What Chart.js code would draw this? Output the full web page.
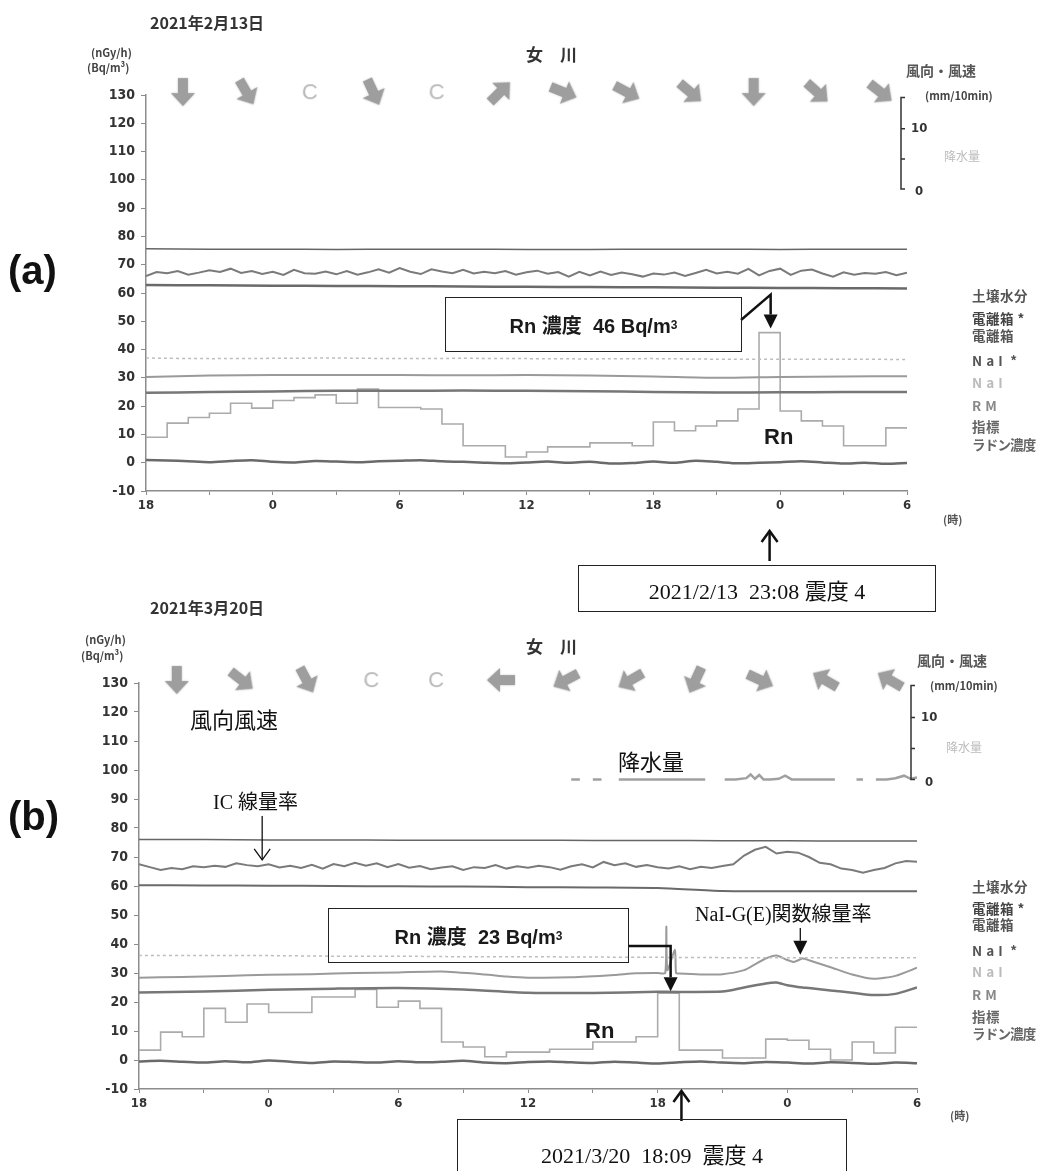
<!DOCTYPE html>
<html lang="ja">
<head>
<meta charset="utf-8">
<script src="https://cdn.jsdelivr.net/npm/chart.js@4.4.1/dist/chart.umd.min.js"></script>
<style>
  body { margin:0; background:#fff; }
  #page { position:relative; width:1043px; height:1171px; overflow:hidden; background:#fff; }
  canvas { position:absolute; left:0; }
  .t { position:absolute; white-space:nowrap; line-height:1; font-family:"Noto Sans CJK JP",sans-serif; z-index:2; }
  .b { font-weight:bold; }
  .serif { font-family:"Liberation Serif","DejaVu Serif","Noto Sans CJK JP",serif; color:#111; }
  .box { position:absolute; border:1.5px solid #222; box-sizing:border-box; display:flex; align-items:center; justify-content:center; z-index:2; }
  .rn { font-family:"Liberation Sans",Arial,"Noto Sans CJK JP",sans-serif; font-weight:bold; font-size:20px; color:#1a1a1a; }
  .big { font-family:"Liberation Sans",Arial,sans-serif; font-weight:bold; font-size:40px; color:#111; }
  .leg { font-size:13.5px; font-weight:bold; color:#555; letter-spacing:0.5px; }
  .leg.narrow { letter-spacing:-0.8px; }
  sup { font-size:60%; line-height:0; }
</style>
</head>
<body>
<div id="page">
  <canvas id="chartA" width="1043" height="565" style="top:0"></canvas>
  <canvas id="chartB" width="1043" height="581" style="top:590px"></canvas>

  <!-- panel (a) texts -->
  <div class="t b" style="left:150px;top:14px;font-size:16px;color:#333">2021年2月13日</div>
  <div class="t big" style="left:8px;top:250px">(a)</div>
  <div class="t b" style="left:91px;top:47px;font-size:11px;color:#444">(nGy/h)</div>
  <div class="t b" style="left:87px;top:62px;font-size:11px;color:#444">(Bq/m³)</div>
  <div class="t b" style="left:526px;top:45px;font-size:17px;color:#333">女　川</div>
  <div class="t b" style="left:906px;top:63px;font-size:14px;color:#555">風向・風速</div>
  <div class="t b" style="left:925px;top:90px;font-size:11px;color:#444">(mm/10min)</div>
  <div class="t" style="left:944px;top:150px;font-size:12px;color:#bbb">降水量</div>
  <div class="t b" style="left:943px;top:514px;font-size:11px;color:#555">(時)</div>
  <div class="t leg" style="left:972px;top:289px;color:#555">土壌水分</div>
  <div class="t leg" style="left:972px;top:312px;color:#444">電離箱 *</div>
  <div class="t leg" style="left:972px;top:329px;color:#555">電離箱</div>
  <div class="t leg" style="left:972px;top:354px;color:#555">N a I &nbsp;*</div>
  <div class="t leg" style="left:972px;top:376px;color:#bbb">N a I</div>
  <div class="t leg" style="left:972px;top:399px;color:#888">R M</div>
  <div class="t leg" style="left:972px;top:420px;color:#666">指標</div>
  <div class="t leg narrow" style="left:972px;top:438px;color:#666">ラドン濃度</div>
  <div class="box rn" style="left:445px;top:297px;width:297px;height:55px">Rn 濃度&nbsp; 46 Bq/m<sup>3</sup></div>
  <div class="t rn" style="left:764px;top:426px;font-size:22px">Rn</div>
  <div class="box serif" style="left:578px;top:565px;width:358px;height:47px;font-size:22px">2021/2/13&nbsp; 23:08 震度 4</div>

  <!-- panel (b) texts -->
  <div class="t b" style="left:150px;top:599px;font-size:16px;color:#333">2021年3月20日</div>
  <div class="t big" style="left:8px;top:796px">(b)</div>
  <div class="t b" style="left:85px;top:634px;font-size:11px;color:#444">(nGy/h)</div>
  <div class="t b" style="left:81px;top:650px;font-size:11px;color:#444">(Bq/m³)</div>
  <div class="t b" style="left:526px;top:637px;font-size:17px;color:#333">女　川</div>
  <div class="t b" style="left:917px;top:653px;font-size:14px;color:#555">風向・風速</div>
  <div class="t b" style="left:930px;top:680px;font-size:11px;color:#444">(mm/10min)</div>
  <div class="t" style="left:946px;top:741px;font-size:12px;color:#bbb">降水量</div>
  <div class="t b" style="left:950px;top:1110px;font-size:11px;color:#555">(時)</div>
  <div class="t serif" style="left:190px;top:710px;font-size:22px">風向風速</div>
  <div class="t serif" style="left:618px;top:752px;font-size:22px">降水量</div>
  <div class="t serif" style="left:213px;top:792px;font-size:20px">IC 線量率</div>
  <div class="t serif" style="left:695px;top:904px;font-size:20px">NaI-G(E)関数線量率</div>
  <div class="t leg" style="left:972px;top:880px;color:#555">土壌水分</div>
  <div class="t leg" style="left:972px;top:902px;color:#444">電離箱 *</div>
  <div class="t leg" style="left:972px;top:918px;color:#555">電離箱</div>
  <div class="t leg" style="left:972px;top:944px;color:#555">N a I &nbsp;*</div>
  <div class="t leg" style="left:972px;top:965px;color:#bbb">N a I</div>
  <div class="t leg" style="left:972px;top:988px;color:#888">R M</div>
  <div class="t leg" style="left:972px;top:1010px;color:#666">指標</div>
  <div class="t leg narrow" style="left:972px;top:1027px;color:#666">ラドン濃度</div>
  <div class="box rn" style="left:328px;top:908px;width:301px;height:55px">Rn 濃度&nbsp; 23 Bq/m<sup>3</sup></div>
  <div class="t rn" style="left:585px;top:1020px;font-size:22px">Rn</div>
  <div class="box serif" style="left:457px;top:1119px;width:390px;height:62px;font-size:22px;align-items:flex-start;padding-top:17px">2021/3/20&nbsp; 18:09&nbsp; 震度 4</div>
</div>

<script>
// time axis: hours after 18:00 of the previous day, 36 h in all
var START_HOUR = 18;
var HOURS_3 = [0,3,6,9,12,15,18,21,24,27,30,33,36];
var HOURS_1 = [0,1,2,3,4,5,6,7,8,9,10,11,12,13,14,15,16,17,18,19,20,21,22,23,24,25,26,27,28,29,30,31,32,33,34,35,36];
var WIND_HOURS = [1.75,4.75,7.75,10.75,13.75,16.75,19.75,22.75,25.75,28.75,31.75,34.75];

// ---- panel (a) 2021/2/13 ----
var windA = [180,150,null,155,null,45,112,118,130,180,132,128];   // degrees, null = calm
var topA   = [75.6,75.5,75.5,75.4,75.5,75.5,75.4,75.4,75.5,75.5,75.4,75.5,75.5];
var icA = [66.0,67.4,67.0,67.8,66.5,67.2,68.0,67.4,68.6,67.1,
           67.8,66.7,67.5,66.4,68.2,67.0,66.8,67.6,66.6,67.8,
           66.5,67.3,68.4,67.2,68.8,67.5,66.7,68.4,67.6,67.0,
           68.2,66.9,67.5,67.0,67.8,66.5,67.3,67.9,66.8,67.4,
           65.8,67.5,66.2,67.6,66.4,67.2,66.6,65.8,66.9,66.5,
           67.2,66.0,67.1,68.2,66.9,67.5,66.8,68.5,66.2,67.8,
           68.6,66.4,67.9,68.3,66.9,65.8,67.3,66.5,67.1,66.8,
           67.4,66.3,67.2];
var sixtyA = [62.8,62.7,62.6,62.5,62.4,62.3,62.2,62.1,62.0,61.9,61.8,61.7,61.6];
var dotA   = [37.0,36.8,36.9,37.0,36.8,36.9,36.8,36.7,36.8,36.6,36.6,36.6,36.5];
var naiA   = [30.3,30.8,31.0,31.0,31.0,30.9,31.0,30.8,30.5,30.0,30.3,30.5,30.6];
var rmA    = [24.7,25.0,25.2,25.4,25.4,25.5,25.4,25.3,25.0,24.8,24.9,25.0,25.0];
var rnA = [9,14,16,17.5,21,19.3,22,23,24,21,26,19.5,19.5,19,13.7,6,6,2,3.8,5.6,5.6,7,7,6,
           14.4,11.3,13,14.8,19,46,18.3,14.8,13,6,6,12.3,12.3];
var zeroA = [1,0.8,0.5,0.2,0.6,0.9,0.3,0.1,0.6,0.4,0.2,0.5,0.7,0.9,0.5,0.3,0,-0.2,0.1,0.4,
             0,0.3,-0.3,-0.1,0.4,0,0.7,0.3,-0.2,0,0.2,0.5,0.1,-0.3,0,-0.4,-0.1];
var QUAKE_A = 29.5;     // where the earthquake arrow stands
var RN_EVENT_A = 29;    // hour slot of the Rn value called out in the box

// ---- panel (b) 2021/3/20 ----
var windB = [180,128,152,null,null,270,242,240,205,115,300,300];
var topB   = [76.0,76.0,75.9,75.9,75.8,75.8,75.8,75.7,75.7,75.6,75.6,75.5,75.5];
var icB = [67.5,66.5,65.5,66.2,65.8,66.8,66.5,67.0,66.6,67.8,
           67.2,66.8,67.5,66.4,67.0,66.2,67.3,66.0,67.6,66.8,
           68.0,67.0,67.8,66.5,67.6,66.3,66.9,65.8,66.4,66.8,
           65.5,66.5,66.2,67.2,66.0,66.8,66.3,67.0,66.5,65.6,
           66.8,67.5,66.4,68.3,67.2,67.8,66.6,67.2,66.5,66.0,
           66.8,65.8,66.6,66.2,66.9,67.5,70.5,72.5,73.5,71.2,
           71.8,71.5,70.0,68.0,67.5,66.0,65.5,64.6,65.5,66.2,
           67.8,68.6,68.4];
var sixtyB = [60.3,60.2,60.1,60.0,59.9,59.8,59.6,59.5,59.3,58.3,58.2,58.2,58.2];
var dotB   = [36.0,36.0,36.0,35.8,35.8,35.6,35.6,35.5,35.4,35.3,35.3,35.3,35.3];
var naiHoursB = [0,2,4,6,8,10,12,14,16,17,18,20,22,23,24,24.35,24.4,24.45,24.8,24.85,
                 25,26,27,28,28.5,29,29.5,30,30.3,30.7,31,32,33,34,35,36];
var naiB = [28.4,28.6,29,29.4,29.6,30,30.2,30.5,29.5,28.8,28.4,28.5,29.3,29.9,30,30,46,31,38,30,
            29.8,29.5,29.6,31,33,35,36,34.5,33.8,35,34.4,32,29.5,28,29,31.8];
var rmHoursB = [0,3,6,9,12,15,18,21,24,27,28,29,29.5,30,30.7,31,32,33,34,35,36];
var rmB = [23.3,23.6,24.2,24.6,24.8,24.3,23.2,23.1,23.5,23.6,25,26.4,26.7,25.8,25,24.8,24,23.2,22.4,22.8,25];
var rnB = [3.4,9.6,8,17.8,13,19.3,16.4,16.4,21.7,21.7,24.3,18.2,20.3,17.8,6.2,4.5,1.1,2.7,2.7,3.7,
           3.7,6.2,6.2,8,23,3.4,3.4,0.7,0.7,7.2,6.8,3.7,0,6.2,2.4,11.3,11.3];
var zeroB = [-0.5,-0.3,-0.6,-0.9,-0.4,-0.8,-0.2,-0.6,-1,-0.5,-0.7,-0.9,-0.4,-0.8,-0.6,-0.3,-0.9,-1.1,-0.7,-0.5,
             -0.8,-1,-0.6,-0.9,-1.2,-0.8,-0.5,-0.9,-1.1,-0.7,-0.9,-1.2,-0.8,-1,-1.3,-0.9,-1.1];
var precipHoursB = [20.0,20.4,20.6,21.0,21.4,21.6,22.2,23.0,24.0,25.0,26.2,26.5,27.1,27.6,28.1,28.3,28.5,28.7,28.9,29.2,
                    29.6,29.9,30.2,30.5,31.0,31.5,32.2,32.5,33.2,33.5,33.7,34.1,34.6,35.0,35.4,35.7,36.0];
var precipB = [0,0,null,0,0,null,0,0,0,0,0,null,0,0,0.2,0.8,0.1,0.7,0,0,
               0.1,0.6,0,0,0,0,0,null,0,0,null,0,0,0.2,0.6,0.1,0.3];
var QUAKE_B = 25.1;
var RN_EVENT_B = 24;

// precipitation axis (mm/10min) sits in the upper right of the plot
var RAIN_MIN = -50.1, RAIN_MAX = 15.6;
var WIND_ROW = 131;

Chart.defaults.font.family = '"Liberation Sans Narrow","DejaVu Sans Condensed","Noto Sans CJK JP",sans-serif';

function makeArrow() {
  var c = document.createElement('canvas');
  c.width = 26; c.height = 30;
  var g = c.getContext('2d');
  g.fillStyle = '#9e9e9e';
  g.shadowColor = 'rgba(150,150,150,0.6)';
  g.shadowBlur = 2;
  g.beginPath();
  g.moveTo(13,1); g.lineTo(25,14); g.lineTo(18,14); g.lineTo(18,29);
  g.lineTo(8,29); g.lineTo(8,14); g.lineTo(1,14); g.closePath();
  g.fill();
  return c;
}
function makeCalm() {
  var c = document.createElement('canvas');
  c.width = 24; c.height = 28;
  var g = c.getContext('2d');
  g.fillStyle = '#b8b8b8';
  g.font = '22px "Liberation Sans",sans-serif';
  g.textAlign = 'center'; g.textBaseline = 'middle';
  g.fillText('C', 12, 15);
  return c;
}
var arrowImg = makeArrow(), calmImg = makeCalm();

function series(hours, values, color, width, extra) {
  var ds = {
    data: hours.map(function(h, i) { return {x: h, y: values[i]}; }),
    borderColor: color, borderWidth: width, pointRadius: 0, tension: 0.25, fill: false, spanGaps: false
  };
  return Object.assign(ds, extra || {});
}
function windSeries(dirs) {
  return {
    data: WIND_HOURS.map(function(h) { return {x: h, y: WIND_ROW}; }),
    showLine: false, pointRadius: 10, clip: false,
    pointStyle: dirs.map(function(d) { return d === null ? calmImg : arrowImg; }),
    rotation: dirs.map(function(d) { return d === null ? 0 : d; })
  };
}
function halfHours(arr) { return arr.map(function(_, i) { return i * 0.5; }); }

function drawArrow(ctx, pts, width, head) {
  ctx.save();
  ctx.strokeStyle = '#111'; ctx.fillStyle = '#111'; ctx.lineWidth = width;
  ctx.lineJoin = 'miter';
  var n = pts.length, tip = pts[n-1], prev = pts[n-2];
  var ang = Math.atan2(tip[1]-prev[1], tip[0]-prev[0]);
  var hl = head === 'fill' ? 14 : 11, hw = head === 'fill' ? 7 : 8;
  ctx.beginPath();
  ctx.moveTo(pts[0][0], pts[0][1]);
  for (var i = 1; i < n - 1; i++) ctx.lineTo(pts[i][0], pts[i][1]);
  if (head === 'fill') ctx.lineTo(tip[0] - Math.cos(ang)*hl, tip[1] - Math.sin(ang)*hl);
  else ctx.lineTo(tip[0], tip[1]);
  ctx.stroke();
  var bx = tip[0] - Math.cos(ang)*hl, by = tip[1] - Math.sin(ang)*hl;
  var nx = -Math.sin(ang)*hw, ny = Math.cos(ang)*hw;
  ctx.beginPath();
  ctx.moveTo(bx + nx, by + ny); ctx.lineTo(tip[0], tip[1]); ctx.lineTo(bx - nx, by - ny);
  if (head === 'fill') { ctx.closePath(); ctx.fill(); } else ctx.stroke();
  ctx.restore();
}

var rainAxis = {
  id: 'rainAxis',
  afterDraw: function(chart) {
    var s = chart.scales.yP, ctx = chart.ctx;
    var bx = chart.chartArea.right - 6;
    var y0 = s.getPixelForValue(0), yTop = s.getPixelForValue(15.2);
    ctx.save();
    ctx.strokeStyle = '#333'; ctx.lineWidth = 1.5;
    ctx.beginPath();
    ctx.moveTo(bx + 4, yTop); ctx.lineTo(bx, yTop); ctx.lineTo(bx, y0); ctx.lineTo(bx + 4, y0);
    [5, 10].forEach(function(v) {
      var yy = s.getPixelForValue(v);
      ctx.moveTo(bx, yy); ctx.lineTo(bx + 4, yy);
    });
    ctx.stroke();
    ctx.fillStyle = '#333';
    ctx.font = 'bold 13px ' + Chart.defaults.font.family;
    ctx.textBaseline = 'middle';
    ctx.fillText('10', bx + 10, s.getPixelForValue(10));
    ctx.fillText('0', bx + 14, y0 + 3);
    ctx.restore();
  }
};

var annotA = {
  id: 'annotA',
  afterDatasetsDraw: function(chart) {
    var x = chart.scales.x, y = chart.scales.y, ctx = chart.ctx;
    var px = x.getPixelForValue(RN_EVENT_A + 0.55), py = y.getPixelForValue(rnA[RN_EVENT_A]);
    drawArrow(ctx, [[741, 320], [px, py - 38], [px, py - 4]], 2.5, 'fill');
    var qx = x.getPixelForValue(QUAKE_A), b = chart.chartArea.bottom;
    drawArrow(ctx, [[qx, b + 70], [qx, b + 40]], 2.5, 'open');
  }
};
var annotB = {
  id: 'annotB',
  afterDatasetsDraw: function(chart) {
    var x = chart.scales.x, y = chart.scales.y, ctx = chart.ctx;
    var px = x.getPixelForValue(RN_EVENT_B + 0.6), py = y.getPixelForValue(rnB[RN_EVENT_B]);
    drawArrow(ctx, [[629, 946 - 590], [px, 946 - 590], [px, py - 2]], 2.5, 'fill');
    var ix = x.getPixelForValue(5.7);
    drawArrow(ctx, [[ix, 816 - 590], [ix, y.getPixelForValue(69)]], 1.3, 'open');
    var nx = x.getPixelForValue(30.6);
    drawArrow(ctx, [[nx, 928 - 590], [nx, y.getPixelForValue(36.3)]], 1.3, 'fill');
    var qx = x.getPixelForValue(QUAKE_B), b = chart.chartArea.bottom;
    drawArrow(ctx, [[qx, b + 32], [qx, b + 2]], 2.5, 'open');
  }
};

function makeChart(id, yWidth, padding, datasets, annot) {
  return new Chart(document.getElementById(id), {
    type: 'line',
    data: { datasets: datasets },
    options: {
      responsive: false,
      animation: false,
      layout: { padding: padding },
      plugins: { legend: { display: false }, tooltip: { enabled: false } },
      scales: {
        x: {
          type: 'linear', min: 0, max: 36,
          border: { color: '#8c8c8c', width: 1.5 },
          grid: { drawOnChartArea: false, color: '#8c8c8c', tickLength: 4 },
          ticks: {
            stepSize: 3, autoSkip: false, maxRotation: 0, padding: 3, color: '#333',
            font: { size: 13, weight: 'bold' },
            callback: function(v) { return v % 6 === 0 ? String((START_HOUR + v) % 24) : ''; }
          },
          afterFit: function(s) { s.height = 24; }
        },
        y: {
          min: -10, max: 130,
          border: { color: '#8c8c8c', width: 1.5 },
          grid: { drawOnChartArea: false, color: '#8c8c8c', tickLength: 5 },
          ticks: { stepSize: 10, padding: 6, color: '#333', font: { size: 14, weight: 'bold' } },
          afterFit: function(s) { s.width = yWidth; }
        },
        yP: { display: false, position: 'right', min: RAIN_MIN, max: RAIN_MAX }
      }
    },
    plugins: [rainAxis, annot]
  });
}

makeChart('chartA', 146, { left: 0, right: 136, top: 95, bottom: 50 }, [
  series(HOURS_3, topA, '#666', 1.5),
  series(halfHours(icA), icA, '#7a7a7a', 2, { tension: 0 }),
  series(HOURS_3, sixtyA, '#6a6a6a', 2.5),
  series(HOURS_3, dotA, '#bdbdbd', 1.5, { borderDash: [3, 3] }),
  series(HOURS_3, naiA, '#9a9a9a', 2),
  series(HOURS_3, rmA, '#777', 2.5),
  series(HOURS_1, rnA, '#ababab', 1.6, { stepped: 'before', tension: 0 }),
  series(HOURS_1, zeroA, '#6a6a6a', 2.5),
  windSeries(windA)
], annotA);

makeChart('chartB', 139, { left: 0, right: 126, top: 93, bottom: 58 }, [
  series(HOURS_3, topB, '#666', 1.5),
  series(halfHours(icB), icB, '#7a7a7a', 2, { tension: 0 }),
  series(HOURS_3, sixtyB, '#6a6a6a', 2),
  series(HOURS_3, dotB, '#bdbdbd', 1.5, { borderDash: [3, 3] }),
  series(naiHoursB, naiB, '#9a9a9a', 2, { tension: 0.2 }),
  series(rmHoursB, rmB, '#777', 2.5),
  series(HOURS_1, rnB, '#ababab', 1.6, { stepped: 'before', tension: 0 }),
  series(HOURS_1, zeroB, '#6a6a6a', 2.5),
  series(precipHoursB, precipB, '#a0a0a0', 2.5, { yAxisID: 'yP', tension: 0 }),
  windSeries(windB)
], annotB);
</script>
</body>
</html>
